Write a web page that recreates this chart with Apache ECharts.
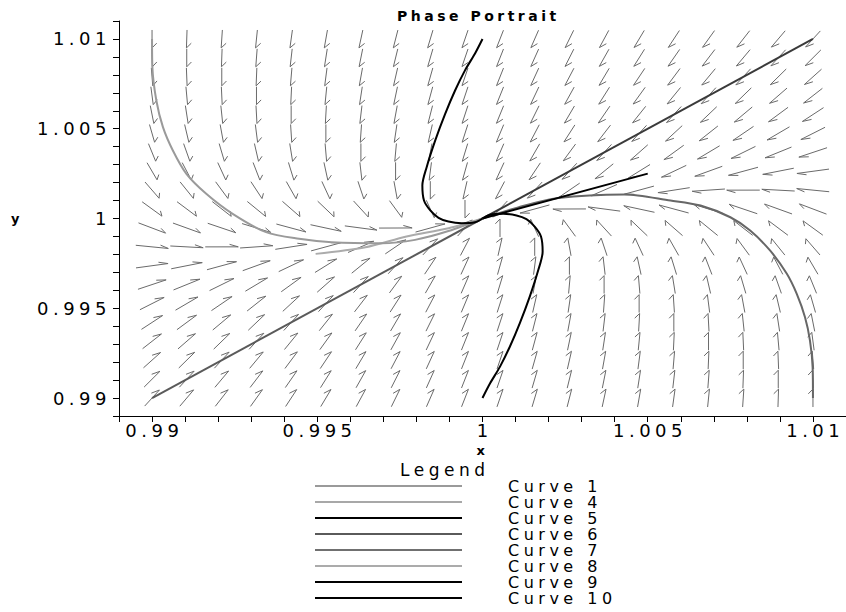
<!DOCTYPE html>
<html>
<head>
<meta charset="utf-8">
<script src="https://cdn.jsdelivr.net/npm/echarts@6/dist/echarts.min.js"></script>
<style>
html, body { margin: 0; padding: 0; background: #ffffff; }
#chart { width: 846px; height: 612px; }
#chart text { letter-spacing: 4.5px; }
#chart text[style*="bold"] { letter-spacing: 3.5px; }
</style>
</head>
<body>
<div id="chart"></div>
<script>
// ---------- data ----------
var axisMin = 0.989;
var axisMax = 1.011;
var tickValues = [0.989, 0.990, 0.991, 0.992, 0.993, 0.994, 0.995, 0.996, 0.997, 0.998, 0.999, 1.000,
                  1.001, 1.002, 1.003, 1.004, 1.005, 1.006, 1.007, 1.008, 1.009, 1.010, 1.011];
var labelValues = [0.99, 0.995, 1, 1.005, 1.01];
var labelTexts = ['0.99', '0.995', '1', '1.005', '1.01'];

// direction field sample positions
var gridX = [0.99, 0.99105, 0.99211, 0.99316, 0.99421, 0.99526, 0.99632, 0.99737, 0.99842, 0.99947,
             1.00053, 1.00158, 1.00263, 1.00368, 1.00474, 1.00579, 1.00684, 1.00789, 1.00895, 1.01];
var gridY = [0.99, 0.99105, 0.99211, 0.99316, 0.99421, 0.99526, 0.99632, 0.99737, 0.99842, 0.99947,
             1.00053, 1.00158, 1.00263, 1.00368, 1.00474, 1.00579, 1.00684, 1.00789, 1.00895, 1.01];
// linear system around the equilibrium: (x', y') = M * (x - 1, y - 1)
var fieldMatrix = [[-1, -1], [1, -5]];
var equilibrium = [1, 1];

// solution curves
var curve4X = [0.99, 0.99001, 0.99013, 0.99033, 0.99063, 0.99104, 0.99164, 0.99244, 0.99345, 0.99445, 0.99544, 0.99695, 0.99796, 0.99897, 1.0];
var curve4Y = [1.01, 1.00843, 1.00657, 1.00509, 1.00379, 1.00249, 1.00138, 1.00026, 0.99924, 0.99887, 0.99868, 0.99862, 0.99881, 0.99930, 1.0];

var curve8X = [0.99495, 0.99646, 0.99770, 0.99897, 1.0];
var curve8Y = [0.99803, 0.99840, 0.99900, 0.99946, 1.0];

var curve6X = [0.99, 1.0];
var curve6Y = [0.99, 1.0];

var curve2X = [1.01, 1.0];
var curve2Y = [1.01, 1.0];

var curve5X = [1.005, 1.0];
var curve5Y = [1.0025, 1.0];

var curve9X = [1.0, 0.99977, 0.99947, 0.99917, 0.99887, 0.99857, 0.99831, 0.99818, 0.99823, 0.99842, 0.99867, 0.99897, 0.99937, 0.99977, 1.0];
var curve9Y = [1.01, 1.00918, 1.00825, 1.00713, 1.00583, 1.00435, 1.00286, 1.00184, 1.00100, 1.00045, 1.00004, 0.99983, 0.99974, 0.99979, 1.0];

var curve10X = [1.0, 1.00023, 1.00053, 1.00083, 1.00113, 1.00143, 1.00169, 1.00182, 1.00177, 1.00158, 1.00133, 1.00103, 1.00063, 1.00023, 1.0];
var curve10Y = [0.99, 0.99082, 0.99175, 0.99287, 0.99417, 0.99565, 0.99714, 0.99816, 0.99900, 0.99955, 0.99996, 1.00017, 1.00026, 1.00021, 1.0];

var curve7X = [1.01, 1.00999, 1.00991, 1.00976, 1.00951, 1.00921, 1.0087, 1.0081, 1.0075, 1.0066, 1.00569, 1.00429, 1.00229, 1.00108, 1.0];
var curve7Y = [0.99, 0.99172, 0.9932, 0.9945, 0.9958, 0.99692, 0.99822, 0.99933, 1.00007, 1.00072, 1.001, 1.00134, 1.00114, 1.00062, 1.0];

var legendNames = ['Curve 1', 'Curve 4', 'Curve 5', 'Curve 6', 'Curve 7', 'Curve 8', 'Curve 9', 'Curve 10'];

// ---------- build ----------
function zip(xs, ys) { return xs.map(function (x, i) { return [x, ys[i]]; }); }

var fieldPoints = [];
gridX.forEach(function (x) { gridY.forEach(function (y) { fieldPoints.push([x, y]); }); });

var FONT = 'DejaVu Sans';
var arrowLen = 0.001;
var barbLen = 0.0003;
var barbAngle = 28 * Math.PI / 180;

function renderArrow(params, api) {
  var x = api.value(0), y = api.value(1);
  var ex = x - equilibrium[0], ey = y - equilibrium[1];
  var dx = fieldMatrix[0][0] * ex + fieldMatrix[0][1] * ey;
  var dy = fieldMatrix[1][0] * ex + fieldMatrix[1][1] * ey;
  var n = Math.sqrt(dx * dx + dy * dy);
  if (!n) return null;
  var ux = dx / n, uy = dy / n;
  var h = arrowLen / 2;
  var tail = [x - ux * h, y - uy * h];
  var tip = [x + ux * h, y + uy * h];
  var bx = -ux, by = -uy;
  var c = Math.cos(barbAngle), s = Math.sin(barbAngle);
  var rx = bx * c + by * s, ry = -bx * s + by * c;
  var barb = [tip[0] + rx * barbLen, tip[1] + ry * barbLen];
  return {
    type: 'polyline',
    shape: { points: [api.coord(tail), api.coord(tip), api.coord(barb)] },
    style: { stroke: '#6a6a6a', lineWidth: 1, fill: null }
  };
}

function curveSeries(name, xs, ys, color, width) {
  return {
    name: name, type: 'line', data: zip(xs, ys),
    symbol: 'none', showSymbol: false, smooth: 0.3,
    color: color,
    lineStyle: { color: color, width: width },
    itemStyle: { color: color },
    z: 3, silent: true, animation: false
  };
}

function axisCommon(isY) {
  return {
    type: 'value', min: axisMin, max: axisMax,
    splitLine: { show: false },
    axisLine: { show: true, onZero: false, lineStyle: { color: '#000', width: 1 } },
    axisTick: { show: true, length: 6, customValues: tickValues, lineStyle: { color: '#000', width: 1 } },
    axisLabel: {
      customValues: labelValues,
      formatter: function (v) {
        for (var i = 0; i < labelValues.length; i++) if (Math.abs(labelValues[i] - v) < 1e-9) return labelTexts[i];
        return '';
      },
      color: '#000', fontFamily: FONT, fontSize: 18,
      margin: isY ? 8 : 5,
      padding: isY ? 0 : [0, 0, 0, 4.5]
    }
  };
}

var xAxis = axisCommon(false);
xAxis.name = 'x';
xAxis.nameLocation = 'middle';
xAxis.nameGap = 26;
xAxis.nameTextStyle = { fontFamily: FONT, fontWeight: 'bold', fontSize: 13, color: '#000' };

var yAxis = axisCommon(true);
yAxis.name = 'y';
yAxis.nameLocation = 'middle';
yAxis.nameRotate = 0;
yAxis.nameGap = 96;
yAxis.nameTextStyle = { fontFamily: FONT, fontWeight: 'bold', fontSize: 13, color: '#000' };

var legendColors = { 'Curve 1': '#9a9a9a', 'Curve 4': '#a8a8a8', 'Curve 5': '#000000', 'Curve 6': '#5a5a5a',
                     'Curve 7': '#707070', 'Curve 8': '#ababab', 'Curve 9': '#000000', 'Curve 10': '#000000' };

var option = {
  animation: false,
  backgroundColor: '#ffffff',
  title: [
    { text: 'Phase Portrait', left: 392, top: 4,
      textStyle: { fontFamily: FONT, fontWeight: 'bold', fontSize: 14, color: '#000' } },
    { text: 'Legend', left: 395, top: 456,
      textStyle: { fontFamily: FONT, fontWeight: 'normal', fontSize: 17, color: '#000' } }
  ],
  grid: { left: 119, top: 21, width: 730, height: 395, containLabel: false },
  xAxis: xAxis,
  yAxis: yAxis,
  legend: {
    orient: 'vertical', left: 315, top: 478, height: 300, padding: 0,
    itemWidth: 147, itemHeight: 2, itemGap: 0,
    icon: 'path://M0,0H147V2H0Z',
    symbolKeepAspect: false,
    selectedMode: false,
    itemStyle: { borderWidth: 0 },
    textStyle: { fontFamily: FONT, fontSize: 16, lineHeight: 16, color: '#000', padding: [0, 0, 0, 41] },
    data: legendNames.map(function (n) { return { name: n, itemStyle: { color: legendColors[n], borderWidth: 0 } }; })
  },
  series: [
    { name: 'Curve 1', type: 'custom', renderItem: renderArrow, data: fieldPoints,
      itemStyle: { color: '#8a8a8a' }, z: 1, silent: true, animation: false },
    curveSeries('Curve 2', curve2X, curve2Y, '#3a3a3a', 2),
    curveSeries('Curve 6', curve6X, curve6Y, '#5a5a5a', 2),
    curveSeries('Curve 8', curve8X, curve8Y, '#ababab', 2),
    curveSeries('Curve 4', curve4X, curve4Y, '#9a9a9a', 2),
    curveSeries('Curve 7', curve7X, curve7Y, '#676767', 2),
    curveSeries('Curve 5', curve5X, curve5Y, '#000000', 2),
    curveSeries('Curve 9', curve9X, curve9Y, '#000000', 2),
    curveSeries('Curve 10', curve10X, curve10Y, '#000000', 2)
  ]
};

var chart = echarts.init(document.getElementById('chart'), null, { renderer: 'svg', width: 846, height: 612 });
chart.setOption(option);
</script>
</body>
</html>
